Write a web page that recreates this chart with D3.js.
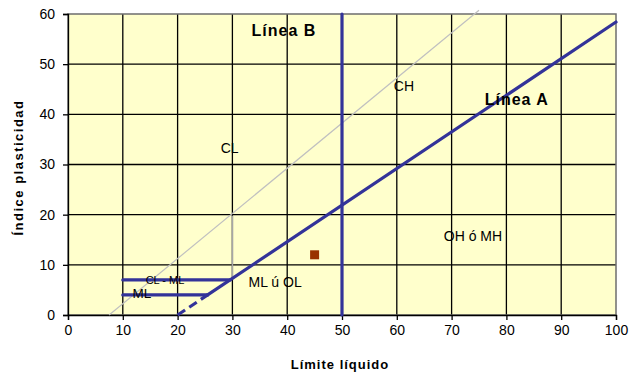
<!DOCTYPE html>
<html><head><meta charset="utf-8">
<script src="https://cdnjs.cloudflare.com/ajax/libs/d3/7.8.5/d3.min.js"></script>
<style>body{margin:0;background:#fff}svg{display:block}text{font-family:"Liberation Sans",Arial,sans-serif}</style>
</head><body>
<svg id="c" width="630" height="373"></svg>
<script>
const xTicks = [0,10,20,30,40,50,60,70,80,90,100];
const yTicks = [0,10,20,30,40,50,60];
const lineA = [[25.48,4],[100,58.4]];
const lineAdash = [[20,0],[25.48,4]];
const lineB = [[50,0],[50,60]];
const lineU = [[7.5,0],[75,60.75]];
const grayVert = [[30,7],[30,19.8]];
const clml = [[10,7],[29.6,7]];
const ml = [[10,4],[25.48,4]];
const points = [[45,12]];
const labels = [
  {t:"Línea B", x:39.4, y:56.8, bold:true, size:16, ls:1},
  {t:"CH", x:61.3, y:45.7, size:14, ls:0},
  {t:"Línea A", x:81.9, y:43.1, bold:true, size:16, ls:1},
  {t:"CL", x:29.5, y:33.3, size:14, ls:0},
  {t:"OH ó MH", x:73.9, y:15.7, size:14, ls:0},
  {t:"ML ú OL", x:37.8, y:6.6, size:14, ls:0},
  {t:"CL - ML", x:17.7, y:7.0, size:11, ls:0},
  {t:"ML", x:13.5, y:4.3, size:13.5, ls:0}
];

const svg = d3.select("#c");
const m = {l:68, r:616, t:14, b:315};
const x = d3.scaleLinear().domain([0,100]).range([m.l,m.r]);
const y = d3.scaleLinear().domain([0,60]).range([m.b,m.t]);

svg.append("rect").attr("x",m.l).attr("y",m.t).attr("width",m.r-m.l).attr("height",m.b-m.t).attr("fill","#FFFFCC");

// grid
svg.append("g").selectAll("line").data(xTicks.slice(1,-1)).join("line")
  .attr("x1",d=>x(d)).attr("x2",d=>x(d)).attr("y1",m.t).attr("y2",m.b)
  .attr("stroke","#000").attr("stroke-width",1.3);
svg.append("g").selectAll("line").data(yTicks.slice(1,-1)).join("line")
  .attr("y1",d=>y(d)).attr("y2",d=>y(d)).attr("x1",m.l).attr("x2",m.r)
  .attr("stroke","#000").attr("stroke-width",1.3);
svg.append("rect").attr("x",m.l).attr("y",m.t).attr("width",m.r-m.l).attr("height",m.b-m.t)
  .attr("fill","none").attr("stroke","#6e6e6e").attr("stroke-width",1.5);

// axes
const xa = svg.append("g").attr("transform",`translate(0,${m.b})`)
  .call(d3.axisBottom(x).tickValues(xTicks).tickSize(5).tickPadding(5));
const ya = svg.append("g").attr("transform",`translate(${m.l},0)`)
  .call(d3.axisLeft(y).tickValues(yTicks).tickSize(5).tickPadding(8));
[xa,ya].forEach(a=>{
  a.select(".domain").attr("stroke","#000").attr("stroke-width",1.3);
  a.selectAll(".tick line").attr("stroke","#000").attr("stroke-width",1.3);
  a.selectAll("text").attr("font-size",14).attr("fill","#000").style("font-family","Liberation Sans, Arial, sans-serif");
});

const line = d3.line().x(d=>x(d[0])).y(d=>y(d[1]));
const blue = "#333399";
svg.append("path").attr("d",line(lineU)).attr("stroke","#c0c0c0").attr("stroke-width",1.2).attr("fill","none");
svg.append("path").attr("d",line(grayVert)).attr("stroke","#a6a6a6").attr("stroke-width",1.5).attr("fill","none");
[lineA,lineB,clml,ml].forEach(p=>svg.append("path").attr("d",line(p)).attr("stroke",blue).attr("stroke-width",3.2).attr("fill","none").attr("stroke-linecap","round"));
svg.append("path").attr("d",line(lineAdash)).attr("stroke",blue).attr("stroke-width",3.2).attr("fill","none").attr("stroke-dasharray","9,5");

svg.selectAll(".pt").data(points).join("rect").attr("class","pt")
  .attr("x",d=>x(d[0])-4.5).attr("y",d=>y(d[1])-4.5).attr("width",9).attr("height",9).attr("fill","#993300");

svg.append("g").selectAll("text").data(labels).join("text")
  .attr("x",d=>x(d.x)).attr("y",d=>y(d.y)+0.358*d.size).attr("text-anchor","middle")
  .attr("font-size",d=>d.size).attr("font-weight",d=>d.bold?"bold":"normal")
  .attr("letter-spacing",d=>d.ls).attr("fill","#000").text(d=>d.t);

svg.append("text").attr("x",340).attr("y",369).attr("text-anchor","middle").attr("font-size",13).attr("font-weight","bold").attr("letter-spacing",1).text("Límite líquido");
svg.append("text").attr("transform","translate(23,167.5) rotate(-90)").attr("text-anchor","middle").attr("font-size",13).attr("font-weight","bold").attr("letter-spacing",1.5).text("Índice plasticidad");
</script>
</body></html>
